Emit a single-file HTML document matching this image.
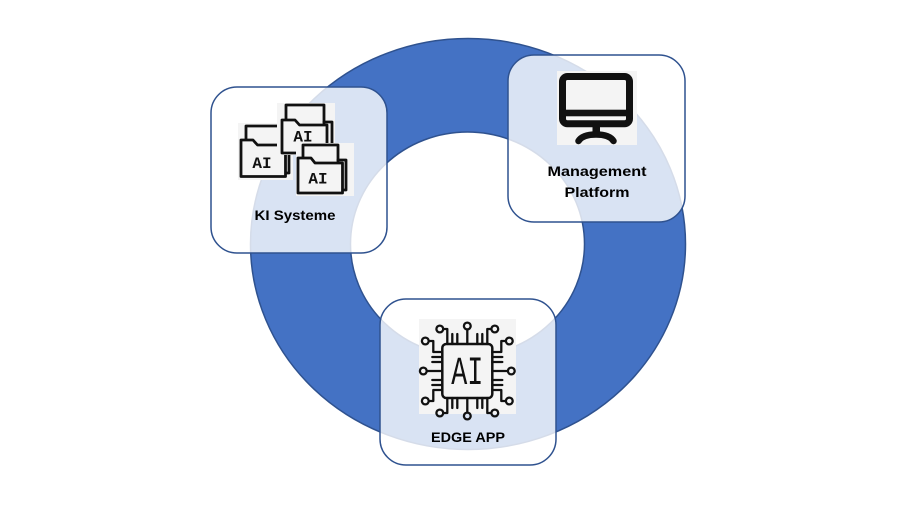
<!DOCTYPE html>
<html>
<head>
<meta charset="utf-8">
<style>
  html,body{margin:0;padding:0;background:#fff;}
  svg{display:block;}
  .lbl{font-family:"Liberation Sans",sans-serif;font-weight:bold;font-size:13.5px;fill:#000;}
  .ai{font-family:"Liberation Mono",monospace;font-weight:bold;font-size:16px;fill:#111;}
  .ln{fill:none;stroke:#111;stroke-width:2.8;stroke-linejoin:round;stroke-linecap:round;}
  .pin{fill:none;stroke:#111;stroke-width:2.3;stroke-linejoin:round;stroke-linecap:round;}
</style>
</head>
<body>
<svg width="900" height="505" viewBox="0 0 900 505" xmlns="http://www.w3.org/2000/svg">
  <rect width="900" height="505" fill="#fff"/>

  <!-- donut -->
  <path fill="#4472c4" fill-rule="evenodd" stroke="#2f528f" stroke-width="1.5"
    d="M250.5,244 a217.5,205.5 0 1,0 435,0 a217.5,205.5 0 1,0 -435,0 Z
       M350.5,244 a117,112 0 1,0 234,0 a117,112 0 1,0 -234,0 Z"/>

  <!-- boxes -->
  <rect x="211" y="87" width="176" height="166" rx="26" ry="26" fill="#fff" fill-opacity="0.8" stroke="#2f528f" stroke-width="1.5"/>
  <rect x="508" y="55" width="177" height="167" rx="26" ry="26" fill="#fff" fill-opacity="0.8" stroke="#2f528f" stroke-width="1.5"/>
  <rect x="380" y="299" width="176" height="166" rx="26" ry="26" fill="#fff" fill-opacity="0.8" stroke="#2f528f" stroke-width="1.5"/>

  <!-- KI folders -->
  <g transform="translate(238,123)">
    <rect width="55" height="57" fill="#f4f4f4"/>
    <path class="ln" d="M8,17 V3 H44 V21"/>
    <path class="ln" d="M44,19 H51 V50 H47"/>
    <path class="ln" d="M3,17 H15 L19.5,22 H47.5 V53.5 H3 Z" style="fill:#f4f4f4"/>
    <text class="ai" x="24" y="45" text-anchor="middle">AI</text>
  </g>
  <g transform="translate(277,103)">
    <rect width="58" height="52" fill="#f4f4f4"/>
    <path class="ln" d="M9,17 V2 H47 V21"/>
    <path class="ln" d="M47,19 H55 V48 H51"/>
    <path class="ln" d="M5,17 H18 L22.5,22 H50 V50 H5 Z" style="fill:#f4f4f4"/>
    <text class="ai" x="26" y="38.5" text-anchor="middle">AI</text>
  </g>
  <g transform="translate(296,143)">
    <rect width="58" height="53" fill="#f4f4f4"/>
    <path class="ln" d="M7,15 V2 H42 V19"/>
    <path class="ln" d="M42,17 H50 V47 H46.5"/>
    <path class="ln" d="M2,15 H15 L19,20 H46.5 V50 H2 Z" style="fill:#f4f4f4"/>
    <text class="ai" x="22" y="40.5" text-anchor="middle">AI</text>
  </g>
  <text class="lbl" x="295" y="220" text-anchor="middle" textLength="81" lengthAdjust="spacingAndGlyphs">KI Systeme</text>

  <!-- Monitor -->
  <rect x="557" y="71" width="80" height="74" fill="#f4f4f4"/>
  <rect x="562.5" y="76.5" width="67" height="47.3" rx="5" ry="5" fill="#f4f4f4" stroke="#111" stroke-width="7"/>
  <rect x="562" y="109.7" width="68" height="6.6" fill="#111"/>
  <rect x="592.5" y="126" width="7.5" height="8" fill="#111"/>
  <path d="M578.5,141 C582,135.5 589,134.5 596,134.5 C603,134.5 610,135.5 613.5,141" fill="none" stroke="#111" stroke-width="6.5" stroke-linecap="round"/>
  <text class="lbl" x="597" y="176" text-anchor="middle" textLength="99" lengthAdjust="spacingAndGlyphs">Management</text>
  <text class="lbl" x="597" y="197" text-anchor="middle" textLength="65" lengthAdjust="spacingAndGlyphs">Platform</text>

  <!-- Chip -->
  <rect x="419" y="319" width="97" height="95" fill="#f4f4f4"/>
  <g transform="translate(467.3,371)">
    <rect x="-25" y="-27" width="50" height="54" rx="4" ry="4" fill="none" stroke="#111" stroke-width="2.5"/>
    <text x="0" y="13" text-anchor="middle" font-family="Liberation Mono, monospace" font-size="40" fill="#111" textLength="32" lengthAdjust="spacingAndGlyphs">AI</text>
    <!-- top -->
    <path class="pin" d="M0,-27 V-41.5"/>
    <circle class="pin" cx="0" cy="-45" r="3.4"/>
    <path class="pin" d="M-10,-27 V-37 M-15,-27 V-37 M10,-27 V-37 M15,-27 V-37"/>
    <path class="pin" d="M-20,-27 V-42 H-24"/>
    <circle class="pin" cx="-27.5" cy="-42" r="3.4"/>
    <path class="pin" d="M20,-27 V-42 H24"/>
    <circle class="pin" cx="27.5" cy="-42" r="3.4"/>
    <!-- bottom -->
    <path class="pin" d="M0,27 V41.5"/>
    <circle class="pin" cx="0" cy="45" r="3.4"/>
    <path class="pin" d="M-10,27 V37 M-15,27 V37 M10,27 V37 M15,27 V37"/>
    <path class="pin" d="M-20,27 V42 H-24"/>
    <circle class="pin" cx="-27.5" cy="42" r="3.4"/>
    <path class="pin" d="M20,27 V42 H24"/>
    <circle class="pin" cx="27.5" cy="42" r="3.4"/>
    <!-- left -->
    <path class="pin" d="M-25,0 H-40.5"/>
    <circle class="pin" cx="-44" cy="0" r="3.4"/>
    <path class="pin" d="M-25,-9 H-35 M-25,-14 H-35 M-25,9 H-35 M-25,14 H-35"/>
    <path class="pin" d="M-25,-19 H-34 V-30 H-38.5"/>
    <circle class="pin" cx="-42" cy="-30" r="3.4"/>
    <path class="pin" d="M-25,19 H-34 V30 H-38.5"/>
    <circle class="pin" cx="-42" cy="30" r="3.4"/>
    <!-- right -->
    <path class="pin" d="M25,0 H40.5"/>
    <circle class="pin" cx="44" cy="0" r="3.4"/>
    <path class="pin" d="M25,-9 H35 M25,-14 H35 M25,9 H35 M25,14 H35"/>
    <path class="pin" d="M25,-19 H34 V-30 H38.5"/>
    <circle class="pin" cx="42" cy="-30" r="3.4"/>
    <path class="pin" d="M25,19 H34 V30 H38.5"/>
    <circle class="pin" cx="42" cy="30" r="3.4"/>
  </g>
  <text class="lbl" x="468" y="442" text-anchor="middle" textLength="74" lengthAdjust="spacingAndGlyphs">EDGE APP</text>
</svg>
</body>
</html>
